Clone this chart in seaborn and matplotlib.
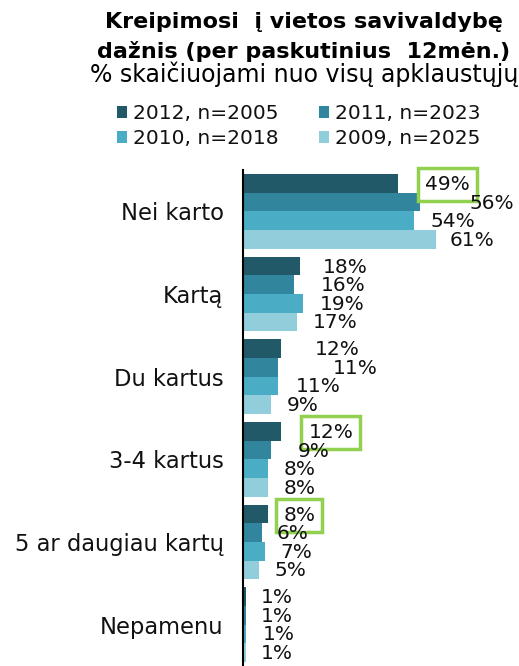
import matplotlib
matplotlib.use("Agg")
import matplotlib.pyplot as plt
from matplotlib.patches import Patch
import seaborn as sns
import pandas as pd

# data
categories = ["Nei karto", "Kartą", "Du kartus", "3-4 kartus", "5 ar daugiau kartų", "Nepamenu"]
years = ["2012, n=2005", "2011, n=2023", "2010, n=2018", "2009, n=2025"]
v2012 = [49, 18, 12, 12, 8, 1]
v2011 = [56, 16, 11, 9, 6, 1]
v2010 = [54, 19, 11, 8, 7, 1]
v2009 = [61, 17, 9, 8, 5, 1]
highlighted = [("Nei karto", "2012, n=2005"), ("3-4 kartus", "2012, n=2005"),
               ("5 ar daugiau kartų", "2012, n=2005")]

# style
colors = ["#215968", "#31859C", "#4BACC6", "#92CDDC"]
# horizontal label shift from bar end (pixels), per category x year
label_shift = [[50, 72, 39, 36],
               [45, 50, 39, 38],
               [56, 77, 40, 31],
               [50, 42, 31, 31],
               [31, 31, 31, 32],
               [31, 31, 33, 31]]

rows = []
for yr, vals in zip(years, [v2012, v2011, v2010, v2009]):
    for cat, v in zip(categories, vals):
        rows.append({"category": cat, "year": yr, "value": v})
df = pd.DataFrame(rows)

sns.set_style("white")
plt.rcParams['font.family'] = ['DejaVu Sans']
plt.rcParams['text.color'] = 'black'

W, H = 519, 666
fig = plt.figure(figsize=(W / 100, H / 100), dpi=100)
ax = fig.add_axes([243 / W, 0, (W - 243) / W, 496 / H])

sns.barplot(data=df, y="category", x="value", hue="year", order=categories,
            hue_order=years, palette=colors, orient="h", width=0.9,
            saturation=1, legend=False, linewidth=0, ax=ax)

ax.set_xlim(0, (W - 243) / 3.16)
ax.set_xlabel("")
ax.set_ylabel("")
ax.set_xticks([])
ax.tick_params(axis="y", length=0, pad=14, labelsize=16.3, labelcolor="#111111")
for s in ["top", "right", "bottom"]:
    ax.spines[s].set_visible(False)
ax.spines["left"].set_color("black")
ax.spines["left"].set_linewidth(1.5)

for h, yr in enumerate(years):
    cont = ax.containers[h]
    for c, cat in enumerate(categories):
        bar = cont[c]
        val = df[(df.category == cat) & (df.year == yr)].value.iloc[0]
        x_end = bar.get_x() + bar.get_width()
        yc = bar.get_y() + bar.get_height() / 2
        bbox = None
        if (cat, yr) in highlighted:
            bbox = dict(boxstyle="square,pad=0.35", fc="none", ec="#92D050", lw=2.5)
        ax.annotate(f"{val}%", (x_end, yc), xytext=(label_shift[c][h], -1),
                    textcoords="offset pixels", ha="center", va="center",
                    fontsize=14.5, color="#111111", bbox=bbox,
                    annotation_clip=False)

# titles
fig.text(304 / W, 1 - 22 / H, "Kreipimosi  į vietos savivaldybę", ha="center",
         va="center", fontsize=16, fontweight="bold", color="black")
fig.text(304 / W, 1 - 51 / H, "dažnis (per paskutinius  12mėn.)", ha="center",
         va="center", fontsize=16, fontweight="bold", color="black")
fig.text(304 / W, 1 - 74 / H, "% skaičiuojami nuo visų apklaustųjų", ha="center",
         va="center", fontsize=17, color="black")

# legend: row-wise order 2012, 2011 / 2010, 2009
order = [0, 2, 1, 3]
handles = [Patch(facecolor=colors[i], edgecolor="none") for i in order]
labels = [years[i] for i in order]
fig.legend(handles, labels, ncol=2, loc="upper left",
           bbox_to_anchor=(117 / W, 1 - 104 / H), frameon=False,
           fontsize=14.5, handlelength=0.5, handleheight=0.5,
           handletextpad=0.3, columnspacing=2.0, labelspacing=0.3,
           borderpad=0, borderaxespad=0, labelcolor="#111111")

fig.savefig("out.png", dpi=100)
